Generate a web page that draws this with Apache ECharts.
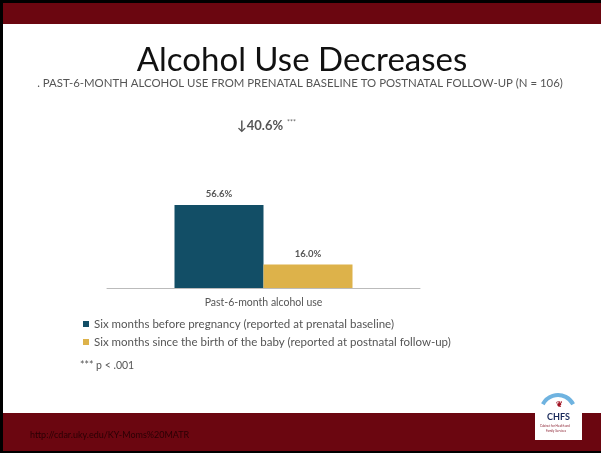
<!DOCTYPE html>
<html>
<head>
<meta charset="utf-8">
<script src="https://cdn.jsdelivr.net/npm/echarts@6/dist/echarts.min.js"></script>
<style>html,body{margin:0;padding:0;background:#000;}#c{width:601px;height:453px;}</style>
</head>
<body>
<div id="c"></div>
<script>
var categories = ['Past-6-month alcohol use'];
var seriesNames = ['Six months before pregnancy (reported at prenatal baseline)', 'Six months since the birth of the baby (reported at postnatal follow-up)'];
var beforeValues = [56.6];
var afterValues = [16.0];
var changeLabel = '40.6%';

var chart = echarts.init(document.getElementById('c'), null, {renderer: 'canvas'});
var FONT = 'Lato';
chart.setOption({
  animation: false,
  backgroundColor: '#000',
  graphic: [
    {type: 'rect', z: -10, shape: {x: 3, y: 3, width: 598, height: 448}, style: {fill: '#fff'}},
    {type: 'rect', z: -9, shape: {x: 3, y: 3, width: 598, height: 21}, style: {fill: '#6b0610'}},
    {type: 'rect', z: -9, shape: {x: 3, y: 413, width: 598, height: 38}, style: {fill: '#6b0610'}},
    {type: 'text', x: 302, y: 77, style: {text: 'Alcohol Use Decreases', font: '33px ' + FONT, fill: '#111', textAlign: 'center', textVerticalAlign: 'bottom'}},
    {type: 'text', x: 300, y: 89, style: {text: '. PAST-6-MONTH ALCOHOL USE FROM PRENATAL BASELINE TO POSTNATAL FOLLOW-UP (N = 106)', font: '11.4px ' + FONT, fill: '#555', textAlign: 'center', textVerticalAlign: 'bottom'}},
    {type: 'text', x: 237, y: 132, style: {text: '\u2193' + changeLabel, font: 'bold 13px ' + FONT, fill: '#555', textVerticalAlign: 'bottom'}},
    {type: 'text', x: 287, y: 126, style: {text: '***', font: '7px ' + FONT, fill: '#666', textVerticalAlign: 'bottom'}},
    {type: 'text', x: 80, y: 371, style: {text: '*** p < .001', font: '10.5px ' + FONT, fill: '#555', textVerticalAlign: 'bottom'}},
    {type: 'text', x: 30, y: 440, style: {text: 'http://cdar.uky.edu/KY-Moms%20MATR', font: '9px ' + FONT, fill: '#2a0004', textVerticalAlign: 'bottom'}},
    {type: 'rect', shape: {x: 535, y: 388, width: 47, height: 52}, style: {fill: '#fff'}},
    {type: 'arc', shape: {cx: 558, cy: 412, r: 17, startAngle: Math.PI * 1.15, endAngle: Math.PI * 1.85}, style: {stroke: '#6fb3e0', lineWidth: 4, fill: null}},
    {type: 'text', x: 556, y: 400, style: {text: '\u2766', font: 'bold 8px ' + FONT, fill: '#a01020'}},
    {type: 'text', x: 547, y: 413, style: {text: 'CHFS', font: 'bold 9px ' + FONT, fill: '#1a2a5a'}},
    {type: 'text', x: 540, y: 425, style: {text: 'Cabinet for Health and', font: '3px ' + FONT, fill: '#8a2030'}},
    {type: 'text', x: 546, y: 430, style: {text: 'Family Services', font: '3px ' + FONT, fill: '#8a2030'}}
  ],
  legend: {
    orient: 'vertical', left: 83, top: 318, padding: 0, itemWidth: 6, itemHeight: 6, itemGap: 6,
    icon: 'rect', textStyle: {fontSize: 11.5, fontFamily: FONT, color: '#555'},
    data: seriesNames
  },
  grid: {left: 107, right: 181, top: 141.4, bottom: 165, containLabel: false},
  xAxis: {
    type: 'category', data: categories,
    axisLine: {lineStyle: {color: '#bbb', width: 1}}, axisTick: {show: false},
    axisLabel: {fontSize: 10.5, fontFamily: FONT, color: '#555', margin: 9}
  },
  yAxis: {type: 'value', min: 0, max: 100, show: false, splitLine: {show: false}},
  series: [
    {name: seriesNames[0], type: 'bar', data: beforeValues, barWidth: 89, barGap: '0%', itemStyle: {color: '#124e66'},
     label: {show: true, position: 'top', distance: 6, formatter: function(p){return p.value.toFixed(1) + '%';}, fontSize: 9.5, fontWeight: 'bold', fontFamily: FONT, color: '#555'}},
    {name: seriesNames[1], type: 'bar', data: afterValues, barWidth: 89, itemStyle: {color: '#ddb24a'},
     label: {show: true, position: 'top', distance: 6, formatter: function(p){return p.value.toFixed(1) + '%';}, fontSize: 9.5, fontWeight: 'bold', fontFamily: FONT, color: '#555'}}
  ]
});
</script>
</body>
</html>
